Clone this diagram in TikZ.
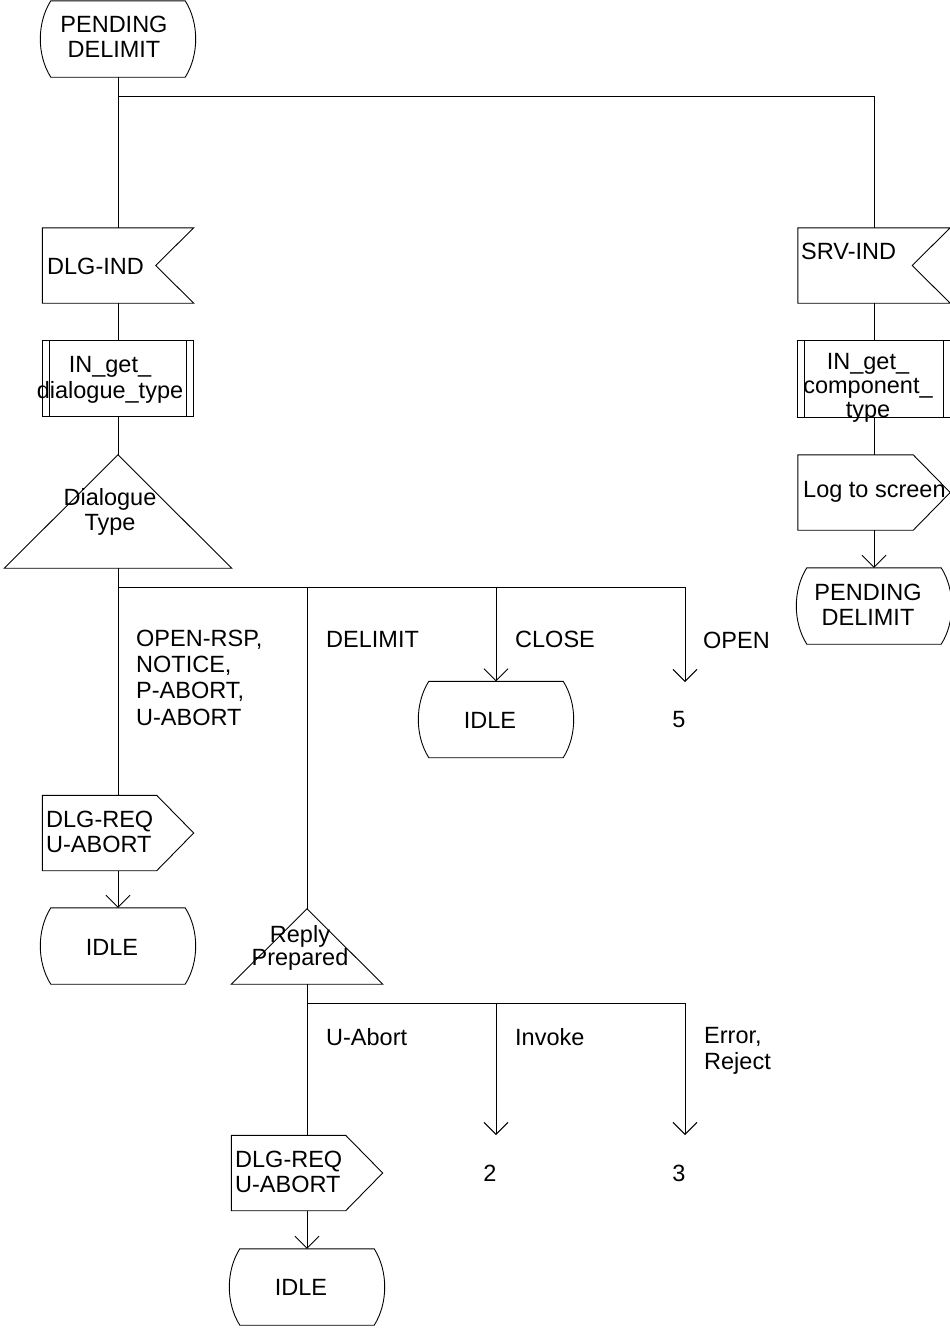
\documentclass[tikz,border=0pt]{standalone}
\usepackage{fontspec}
\setmainfont{Liberation Sans}
\usetikzlibrary{arrows.meta,calc}

\tikzset{
  line/.style={draw=black, line width=0.9pt},
  arr/.style={line, -{Straight Barb[length=12pt,width=24pt]}},
  box/.style 2 args={draw=none, inner sep=0pt, minimum width=#1, minimum height=#2},
  txt/.style={font=\fontsize{23.5pt}{25.5pt}\selectfont, inner sep=0pt, align=center},
  ltxt/.style={txt, align=left, anchor=west},
}

\newcommand\StateShape[1]{%
  \draw[line] ([xshift=10pt]#1.north west) -- ([xshift=-10pt]#1.north east)
    .. controls ([xshift=4pt,yshift=-22pt]#1.north east) and ([xshift=4pt,yshift=22pt]#1.south east) .. ([xshift=-10pt]#1.south east)
    -- ([xshift=10pt]#1.south west)
    .. controls ([xshift=-4pt,yshift=22pt]#1.south west) and ([xshift=-4pt,yshift=-22pt]#1.north west) .. cycle;}
\newcommand\InputShape[1]{%
  \draw[line] (#1.north west) -- (#1.north east) -- ([xshift=-38pt]#1.east) -- (#1.south east) -- (#1.south west) -- cycle;}
\newcommand\OutputShape[1]{%
  \draw[line] (#1.north west) -- ([xshift=-37pt]#1.north east) -- (#1.east) -- ([xshift=-37pt]#1.south east) -- (#1.south west) -- cycle;}
\newcommand\ProcShape[1]{%
  \draw[line] (#1.north west) rectangle (#1.south east);
  \draw[line] ([xshift=7pt]#1.north west) -- ([xshift=7pt]#1.south west)
              ([xshift=-7pt]#1.north east) -- ([xshift=-7pt]#1.south east);}
\newcommand\DecShape[1]{%
  \draw[line] (#1.south west) -- (#1.north) -- (#1.south east) -- cycle;}

\begin{document}
\begin{tikzpicture}[x=1pt,y=-1pt]
\fill[white] (0,0) rectangle (950,1328);
\useasboundingbox (0,0) rectangle (950,1328);

% ---------- left column ----------
\node[box={154pt}{76pt}] (s0) at (118,39) {};
\StateShape{s0}
\node[txt] (t0) at (114,37) {PENDING\\DELIMIT};

\node[box={151pt}{75pt}] (in1) at (118,265.5) {};
\InputShape{in1}
\node[ltxt] (t1) at (47,266) {DLG-IND};

\node[box={151pt}{75pt}] (pr1) at (118,378.5) {};
\ProcShape{pr1}
\node[txt] (t2) at (110,380) {IN\_get\_\\dialogue\_type};

\node[box={227pt}{113pt}] (d1) at (118,511.5) {};
\DecShape{d1}
\node[txt] (t3) at (110,512) {Dialogue\\Type};

\node[box={151pt}{75pt}] (out1) at (118,833) {};
\OutputShape{out1}
\node[ltxt] (t4) at (46,832) {DLG-REQ\\U-ABORT};

\node[box={154pt}{76pt}] (idle1) at (118,946) {};
\StateShape{idle1}
\node[txt] (t5) at (112,947) {IDLE};

% ---------- branches of Dialogue Type ----------
\coordinate (b1) at (118,96);
\coordinate (b2) at (118,587);
\coordinate (c5) at (685,682);

\node[ltxt, font=\fontsize{23.5pt}{26.3pt}\selectfont] (l1) at (136,677.5) {OPEN-RSP,\\NOTICE,\\P-ABORT,\\U-ABORT};
\node[ltxt] (l2) at (326,639) {DELIMIT};
\node[ltxt] (l3) at (515,639) {CLOSE};
\node[ltxt] (l4) at (703,640) {OPEN};
\node[txt] (t6) at (679,720) {5};

\node[box={154pt}{76pt}] (idle2) at (496,719.5) {};
\StateShape{idle2}
\node[txt] (t7) at (490,720) {IDLE};

% ---------- middle column ----------
\node[box={151pt}{75pt}] (d2) at (307,946.5) {};
\DecShape{d2}
\node[txt, font=\fontsize{23.5pt}{23pt}\selectfont] (t8) at (300,948) {Reply\\Prepared};

\coordinate (b3) at (307,1003);
\coordinate (c2) at (496,1135);
\coordinate (c3) at (685,1135);
\node[ltxt] (l5) at (326,1037) {U-Abort};
\node[ltxt] (l6) at (515,1037) {Invoke};
\node[ltxt] (l7) at (704,1051) {Error,\\Reject};
\node[txt] (t11) at (490,1173) {2};
\node[txt] (t12) at (679,1173) {3};

\node[box={151pt}{75pt}] (out2) at (307,1173) {};
\OutputShape{out2}
\node[ltxt] (t9) at (235,1172) {DLG-REQ\\U-ABORT};

\node[box={154pt}{76pt}] (idle3) at (307,1287) {};
\StateShape{idle3}
\node[txt] (t10) at (301,1287) {IDLE};

% ---------- right column ----------
\node[box={152pt}{75pt}] (in2) at (874,265.5) {};
\InputShape{in2}
\node[ltxt] (t13) at (801,251) {SRV-IND};

\node[box={152pt}{76pt}] (pr2) at (874,379) {};
\ProcShape{pr2}
\node[txt, font=\fontsize{23.5pt}{24pt}\selectfont] (t14) at (868,388) {IN\_get\_\\component\_\\type};

\node[box={152pt}{75pt}] (out3) at (874,492.5) {};
\OutputShape{out3}
\node[ltxt] (t15) at (803,492) {Log to screen};

\node[box={154pt}{76pt}] (s1) at (874,606) {};
\StateShape{s1}
\node[txt] (t16) at (868,605) {PENDING\\DELIMIT};

% ---------- connectors ----------
\draw[line] (s0.south) -- (in1.north);
\draw[line] (b1) -| (in2.north);
\draw[line] (in1.south) -- (pr1.north);
\draw[line] (pr1.south) -- (d1.north);
\draw[line] (d1.south) -- (out1.north);
\draw[arr] (b2) -| (c5);
\draw[line] (b2 -| d2.north) -- (d2.north);
\draw[arr] (b2 -| idle2.north) -- (idle2.north);
\draw[arr] (out1.south) -- (idle1.north);
\draw[line] (d2.south) -- (out2.north);
\draw[arr] (b3) -| (c3);
\draw[arr] (b3 -| c2) -- (c2);
\draw[arr] (out2.south) -- (idle3.north);
\draw[line] (in2.south) -- (pr2.north);
\draw[line] (pr2.south) -- (out3.north);
\draw[arr] (out3.south) -- (s1.north);
\end{tikzpicture}
\end{document}
